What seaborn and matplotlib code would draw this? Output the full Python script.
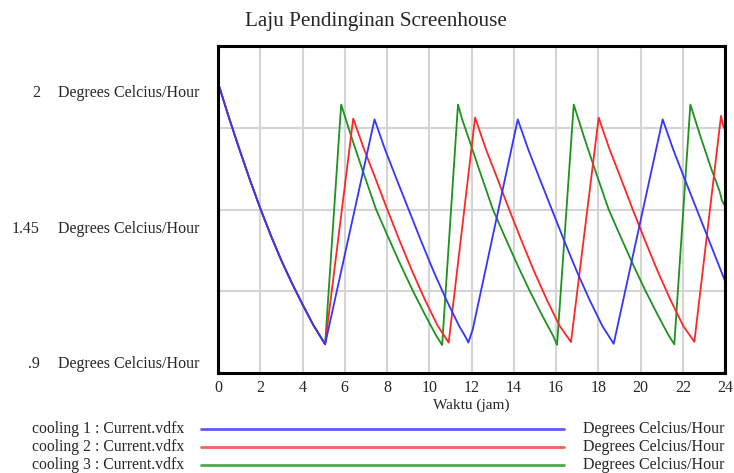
import numpy as np
import pandas as pd
import seaborn as sns
import matplotlib
matplotlib.use("Agg")
import matplotlib.pyplot as plt
from matplotlib.lines import Line2D

# ---------------- data ----------------
title = "Laju Pendinginan Screenhouse"
x_label = "Waktu (jam)"
unit = "Degrees Celcius/Hour"
series_names = ["cooling 1 : Current.vdfx", "cooling 2 : Current.vdfx", "cooling 3 : Current.vdfx"]

x_ticks = list(range(0, 25, 2))
y_tick_values = [2.0, 1.45, 0.9]
y_tick_labels = ["2", "1.45", ".9"]

blue_t = [0, 0.5, 1, 1.5, 2, 2.5, 3, 3.5, 4, 4.5, 5.07,
          7.41, 7.91, 8.41, 9.01, 9.61, 10.21, 10.81, 11.41, 11.75, 11.85, 12.06,
          14.19, 14.69, 15.19, 15.79, 16.39, 16.99, 17.59, 18.19, 18.73,
          21.05, 21.55, 22.05, 22.65, 23.25, 24]
blue_v = [2.042, 1.905, 1.775, 1.650, 1.532, 1.422, 1.320, 1.228, 1.142, 1.060, 0.980,
          1.893, 1.770, 1.660, 1.530, 1.400, 1.275, 1.160, 1.055, 1.005, 0.987, 1.041,
          1.893, 1.770, 1.660, 1.530, 1.400, 1.275, 1.160, 1.055, 0.982,
          1.893, 1.770, 1.660, 1.530, 1.400, 1.237]

red_t = [0, 0.5, 1, 1.5, 2, 2.5, 3, 3.5, 4, 4.5, 5.07,
         6.40, 6.90, 7.40, 8.00, 8.60, 9.20, 9.80, 10.40, 10.92,
         12.17, 12.67, 13.17, 13.77, 14.37, 14.97, 15.57, 16.17, 16.71,
         18.02, 18.52, 19.02, 19.62, 20.22, 20.82, 21.42, 22.02, 22.55,
         23.81, 23.92, 24]
red_v = [2.042, 1.905, 1.775, 1.650, 1.532, 1.422, 1.320, 1.228, 1.142, 1.060, 0.980,
         1.896, 1.775, 1.665, 1.530, 1.400, 1.275, 1.160, 1.055, 0.987,
         1.900, 1.775, 1.665, 1.530, 1.400, 1.275, 1.160, 1.055, 0.989,
         1.900, 1.775, 1.665, 1.530, 1.400, 1.275, 1.160, 1.055, 0.990,
         1.907, 1.866, 1.852]

green_t = [0, 0.5, 1, 1.5, 2, 2.5, 3, 3.5, 4, 4.5, 5.07,
           5.83, 6.33, 6.83, 7.48, 8.03, 8.63, 9.23, 9.83, 10.33, 10.61,
           11.36, 11.55, 11.86, 12.36, 13.01, 13.56, 14.16, 14.76, 15.36, 15.86, 16.05,
           16.84, 17.34, 17.84, 18.49, 19.04, 19.64, 20.24, 20.84, 21.34, 21.60,
           22.36, 22.86, 23.36, 23.60, 23.75, 23.85, 24]
green_v = [2.042, 1.905, 1.775, 1.650, 1.532, 1.422, 1.320, 1.228, 1.142, 1.060, 0.980,
           1.953, 1.818, 1.690, 1.528, 1.420, 1.305, 1.196, 1.095, 1.015, 0.977,
           1.953, 1.895, 1.818, 1.690, 1.528, 1.420, 1.305, 1.196, 1.095, 1.015, 0.978,
           1.953, 1.818, 1.690, 1.528, 1.420, 1.305, 1.196, 1.095, 1.015, 0.980,
           1.953, 1.818, 1.690, 1.635, 1.600, 1.565, 1.541]

colors = {"blue": "#3535ff", "red": "#ff2626", "green": "#1c931c"}
legend_colors = ["#5a5aff", "#ff6060", "#4fa84f"]

# ---------------- figure ----------------
sns.set_theme(style="white")
plt.rcParams["font.family"] = ["Liberation Serif", "DejaVu Serif"]

W, H = 734, 473
fig = plt.figure(figsize=(W / 100, H / 100), dpi=100)
ax = fig.add_axes([218 / W, 1 - 373 / H, 507 / W, 327 / H])

df = pd.concat([
    pd.DataFrame({"t": green_t, "v": green_v, "s": "green"}),
    pd.DataFrame({"t": red_t, "v": red_v, "s": "red"}),
    pd.DataFrame({"t": blue_t, "v": blue_v, "s": "blue"}),
], ignore_index=True)

sns.lineplot(data=df, x="t", y="v", hue="s", hue_order=["green", "red", "blue"],
             palette=colors, estimator=None, sort=False, legend=False, ax=ax,
             linewidth=1.3)

ylo, yhi = 0.8635, 2.1908
ax.set_xlim(0, 24)
ax.set_ylim(ylo, yhi)
ax.set_xticks(x_ticks)
ax.set_xticklabels([str(v) for v in x_ticks], fontsize=11.5)
ax.set_yticks(np.linspace(ylo, yhi, 5)[1:-1])
ax.set_yticklabels([])
ax.grid(True, color="#d4d4d4", linewidth=1.5)
ax.tick_params(length=0, pad=5)
for sp in ax.spines.values():
    sp.set_color("black")
    sp.set_linewidth(2.2)
    sp.set_visible(True)
ax.set_xlabel(x_label, fontsize=11, labelpad=2)
ax.set_ylabel("")

# y labels (Vensim style: value + unit)
for val, lab in zip(y_tick_values, y_tick_labels):
    ax.annotate(lab, xy=(40 / W, val), xycoords=("figure fraction", "data"),
                ha="right", va="center", fontsize=11.5, annotation_clip=False)
    ax.annotate(unit, xy=(58 / W, val), xycoords=("figure fraction", "data"),
                ha="left", va="center", fontsize=11.5, annotation_clip=False)

fig.text(376 / W, 1 - 21 / H, title, ha="center", va="center", fontsize=15.2)

# legend rows
rows_y = [429, 447, 465]
for name, col, yy in zip(series_names, legend_colors, rows_y):
    fy = 1 - yy / H
    fig.text(32 / W, fy, name, ha="left", va="center", fontsize=11.3)
    fig.add_artist(Line2D([201 / W, 564 / W], [fy, fy], color=col, linewidth=2))
    fig.text(583 / W, fy, unit, ha="left", va="center", fontsize=11.5)

fig.savefig("out.png", dpi=100, facecolor="white")
